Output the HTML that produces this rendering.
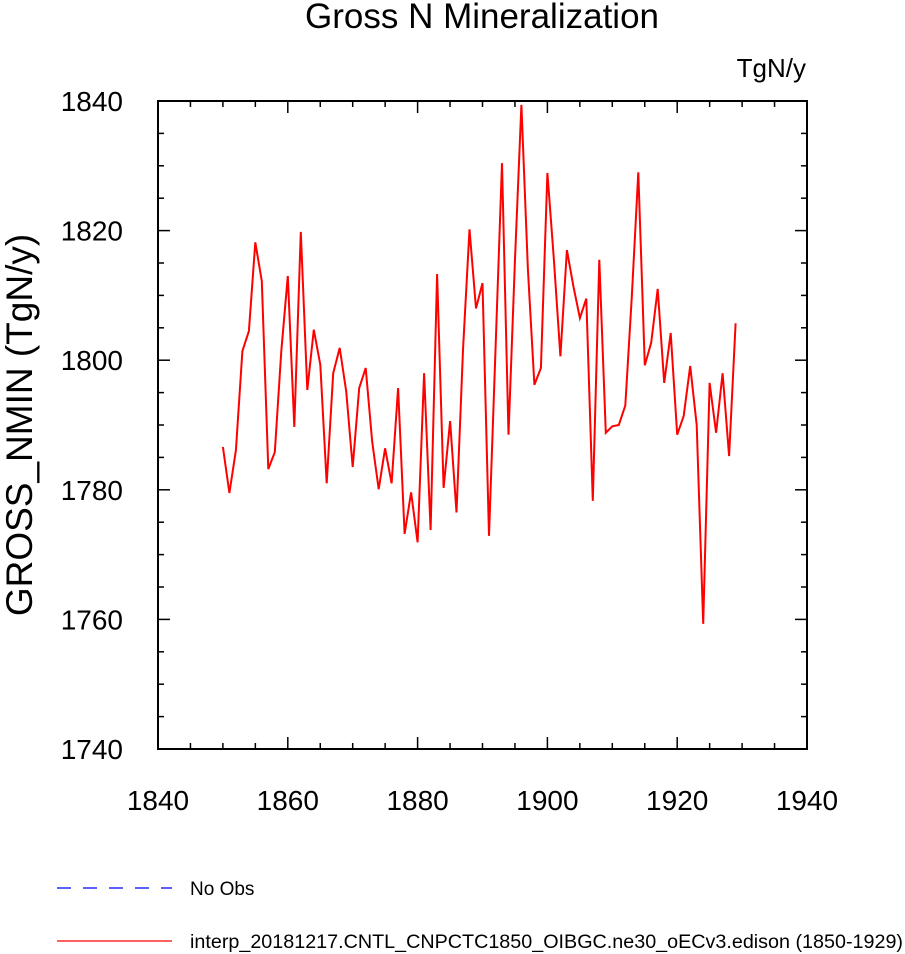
<!DOCTYPE html>
<html><head><meta charset="utf-8"><style>
body{margin:0;background:#fff;}
svg{display:block;font-family:"Liberation Sans",Arial,sans-serif;}
</style></head><body>
<svg id="chart" width="905" height="954" viewBox="0 0 905 954">
<text x="482" y="28" font-size="35" text-anchor="middle">Gross N Mineralization</text>
<text x="806" y="77" font-size="26" text-anchor="end">TgN/y</text>
<text transform="translate(32,425) rotate(-90)" font-size="37" text-anchor="middle">GROSS_NMIN  (TgN/y)</text>
<g id="axes"></g>
<polyline id="series" fill="none" stroke="#ff0000" stroke-width="2"/>
<rect x="158" y="101" width="649" height="648" fill="none" stroke="#000" stroke-width="2"/>
<line x1="57" y1="888" x2="172" y2="888" stroke="#0000ff" stroke-width="1.2" stroke-dasharray="14,12"/>
<text x="190" y="895" font-size="19">No Obs</text>
<line x1="57" y1="941" x2="172" y2="941" stroke="#ff0000" stroke-width="1.2"/>
<text x="190" y="948" font-size="19" textLength="713" lengthAdjust="spacingAndGlyphs">interp_20181217.CNTL_CNPCTC1850_OIBGC.ne30_oECv3.edison (1850-1929)</text>
</svg>
<script>
const years=[];for(let y=1850;y<=1929;y++)years.push(y);
const values=[1786.6,1779.5,1786.1,1801.4,1804.5,1818.2,1812.2,1783.2,1785.8,1801.4,
1813,1789.7,1819.8,1795.4,1804.7,1799.3,1781,1798,1801.9,1795.2,
1783.5,1795.7,1798.8,1787.4,1780.1,1786.4,1781,1795.7,1773.2,1779.6,
1771.9,1798,1773.8,1813.3,1780.3,1790.6,1776.5,1801.6,1820.2,1808,
1811.9,1772.9,1801.6,1830.4,1788.5,1815.6,1839.4,1814,1796.2,1798.8,
1828.9,1815.5,1800.6,1817,1811.4,1806.5,1809.5,1778.3,1815.5,1788.8,
1789.8,1790,1793,1809.8,1829,1799.2,1802.7,1811,1796.5,1804.2,
1788.5,1791.4,1799.1,1790,1759.3,1796.5,1788.8,1798,1785.2,1805.7];
const xTicks=[1840,1860,1880,1900,1920,1940];
const yTicks=[1740,1760,1780,1800,1820,1840];
const X0=158,X1=807,Y0=749,Y1=101;
const sx=v=>X0+(v-1840)/100*(X1-X0);
const sy=v=>Y0-(v-1740)/100*(Y0-Y1);
const NS="http://www.w3.org/2000/svg";
const ax=document.getElementById('axes');
function ln(x1,y1,x2,y2){const l=document.createElementNS(NS,'line');
l.setAttribute('x1',x1);l.setAttribute('y1',y1);l.setAttribute('x2',x2);l.setAttribute('y2',y2);
l.setAttribute('stroke','#000');l.setAttribute('stroke-width','1.5');


ax.appendChild(l);}
for(let v=1840;v<=1940;v+=5){const x=sx(v);const L=(v%20===0)?12:6;ln(x,Y0,x,Y0-L);ln(x,Y1,x,Y1+L);}
for(let v=1740;v<=1840;v+=5){const y=sy(v);const L=(v%20===0)?12:6;ln(X0,y,X0+L,y);ln(X1,y,X1-L,y);}
xTicks.forEach(v=>{const t=document.createElementNS(NS,'text');t.setAttribute('x',sx(v));t.setAttribute('y',Y0+61);
t.setAttribute('font-size','28');t.setAttribute('text-anchor','middle');t.textContent=v;


ax.appendChild(t);});
yTicks.forEach(v=>{const t=document.createElementNS(NS,'text');t.setAttribute('x',X0-35);t.setAttribute('y',sy(v)+10);
t.setAttribute('font-size','28');t.setAttribute('text-anchor','end');t.textContent=v;


ax.appendChild(t);});
document.getElementById('series').setAttribute('points',years.map((y,i)=>sx(y).toFixed(1)+','+sy(values[i]).toFixed(1)).join(' '));
</script>
</body></html>
